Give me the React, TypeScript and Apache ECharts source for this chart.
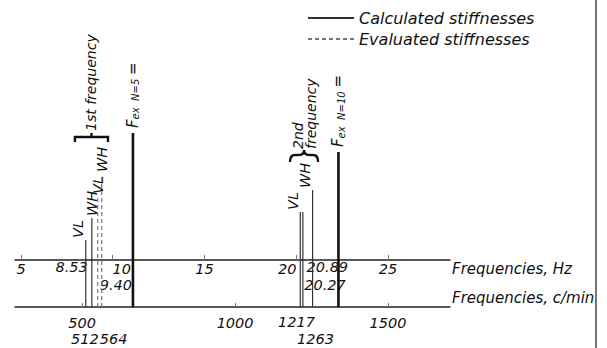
import React, { useEffect, useRef } from 'react';
import * as echarts from 'echarts';

// ---------- data ----------
const hzTicks = [5, 10, 15, 20, 25];
const cpmTicks = [500, 1000, 1500];

// vertical frequency lines (Hz) and their heights above the Hz axis (diagram units)
const lineLabels = ['VL', 'WH', 'VL', 'WH', 'VL', '', 'WH'];
const lineHz = [8.53, 8.86, 9.18, 9.4, 20.22, 20.36, 20.89];
const lineTop = [20, 42, 64, 86, 48, 48, 70];
const lineKind = ['calc', 'calc', 'eval', 'eval', 'calc', 'calc', 'calc'];

// excitation frequencies F_ex for N = 5 and N = 10
const excN = ['5', '10'];
const excHz = [11.1, 22.3];
const excTop = [127, 108];

// extra value labels written on the axes
const hzMarkValues = [8.53, 9.4, 20.89, 20.27];
const hzMarkRow = [0, 1, 0, 1];
const cpmMarkValues = [512, 564, 1217, 1263];
const cpmMarkRow = [1, 1, 0, 1];

// brackets grouping the lines
const groupLabels = ['1st frequency', '2nd\nfrequency'];
const groupFrom = [7.94, 19.66];
const groupTo = [9.74, 21.19];
const groupLevel = [123, 105];

// ---------- layout / style ----------
const FONT = 'DejaVu Sans';
const HZ_MIN = 4.673;
const HZ_MAX = 28.379;
const Y_CPM = -47; // level of the c/min axis
const Y_MAX = 260;
const HZ_ROW_Y = [-7, -25];
const CPM_ROW_Y = [-62, -79];
// side of the line on which each rotated label sits
const lineLabelSide = ['bottom', 'middle', 'middle', 'middle', 'bottom', 'bottom', 'bottom'];
const hzMarkStyle = [
  { align: 'right', dx: 2 },
  { align: 'left', dx: -2 },
  { align: 'left', dx: -6 },
  { align: 'left', dx: 3 },
];
const cpmMarkStyle = [
  { align: 'center', dx: -1 },
  { align: 'left', dx: -2 },
  { align: 'center', dx: -5 },
  { align: 'center', dx: 0 },
];

const NAME_CALC = 'Calculated stiffnesses';
const NAME_EVAL = 'Evaluated stiffnesses';

export default function App() {
  const ref = useRef<HTMLDivElement>(null);
  useEffect(() => {
    if (!ref.current) return;
    const chart = echarts.init(ref.current, null, { renderer: 'svg' });

    const clear = { color: 'rgba(0,0,0,0)', opacity: 1 };

    const lineSeries: any[] = lineHz.map((f, i) => ({
      type: 'line',
      name: lineKind[i] === 'calc' ? NAME_CALC : NAME_EVAL,
      data: [
        [f, Y_CPM],
        [f, lineTop[i]],
      ],
      symbol: 'none',
      silent: true,
      clip: false,
      itemStyle: clear,
      lineStyle:
        lineKind[i] === 'calc'
          ? { color: '#333', width: 1.2, type: 'solid' }
          : { color: '#777', width: 1.2, type: [4, 3] },
      z: 3,
    }));

    const excSeries: any[] = excHz.map((f, i) => ({
      type: 'line',
      name: 'F_ex N=' + excN[i],
      data: [
        [f, Y_CPM],
        [f, excTop[i]],
      ],
      symbol: 'none',
      silent: true,
      clip: false,
      itemStyle: clear,
      lineStyle: { color: '#111', width: 2.6 },
      z: 3,
    }));

    const italic = { fontFamily: FONT, fontStyle: 'italic', color: '#111', opacity: 1 };
    const num = { fontSize: 14.5, lineHeight: 14, ...italic };

    const rotLabels = {
      type: 'scatter',
      name: 'line labels',
      symbolSize: 1,
      itemStyle: clear,
      silent: true,
      clip: false,
      data: [
        ...lineHz
          .map((f, i) => ({
            value: [f, lineTop[i]],
            label: {
              show: !!lineLabels[i],
              formatter: lineLabels[i],
              position: 'inside',
              rotate: 90,
              align: 'left',
              verticalAlign: lineLabelSide[i],
              padding: [0, 0, 0, 2],
              fontSize: 14.5,
              ...italic,
            },
          }))
          .filter((d) => d.label.show),
        ...excHz.map((f, i) => ({
          value: [f, excTop[i]],
          label: {
            show: true,
            formatter: `{F|F}{s|ex  N=${excN[i]}} {F|=}`,
            position: 'inside',
            rotate: 90,
            align: 'left',
            verticalAlign: 'middle',
            padding: [0, 0, 0, 5],
            rich: {
              F: { fontSize: 15, ...italic },
              s: { fontSize: 10, ...italic, padding: [6, 0, 0, 0] },
            },
          },
        })),
        ...groupLabels.map((t, i) => ({
          value: [(groupFrom[i] + groupTo[i]) / 2, groupLevel[i] + 6],
          label: {
            show: true,
            formatter: t,
            position: 'inside',
            rotate: 90,
            align: 'left',
            verticalAlign: 'middle',
            fontSize: 14,
            lineHeight: 13,
            ...italic,
          },
        })),
      ],
    };

    const hzMarkLabels = {
      type: 'scatter',
      name: 'Hz values',
      symbolSize: 1,
      itemStyle: clear,
      silent: true,
      clip: false,
      data: hzMarkValues.map((v, i) => ({
        value: [v, HZ_ROW_Y[hzMarkRow[i]]],
        label: {
          show: true,
          formatter: v.toFixed(2),
          position: 'inside',
          align: hzMarkStyle[i].align,
          verticalAlign: 'middle',
          offset: [hzMarkStyle[i].dx, 0],
          ...num,
        },
      })),
    };

    const cpmMarkLabels = {
      type: 'scatter',
      name: 'c/min values',
      xAxisIndex: 1,
      symbolSize: 1,
      itemStyle: clear,
      silent: true,
      clip: false,
      data: cpmMarkValues.map((v, i) => ({
        value: [v, CPM_ROW_Y[cpmMarkRow[i]]],
        label: {
          show: true,
          formatter: String(v),
          position: 'inside',
          align: cpmMarkStyle[i].align,
          verticalAlign: 'middle',
          offset: [cpmMarkStyle[i].dx, 0],
          ...num,
        },
      })),
    };

    const brackets = {
      type: 'custom',
      name: 'brackets',
      silent: true,
      clip: false,
      encode: { x: [0, 1], y: 2 },
      data: groupFrom.map((f, i) => [f, groupTo[i], groupLevel[i], i]),
      renderItem: (params: any, api: any) => {
        const a = api.coord([api.value(0), api.value(2)]);
        const b = api.coord([api.value(1), api.value(2)]);
        const kind = api.value(3);
        const x1 = a[0];
        const x2 = b[0];
        const y = a[1];
        const xm = (x1 + x2) / 2;
        const st = { stroke: '#111', lineWidth: 2.4, fill: null };
        if (kind === 0) {
          return {
            type: 'group',
            children: [
              {
                type: 'polyline',
                shape: { points: [[x1, y + 5], [x1, y], [x2, y], [x2, y + 5]] },
                style: st,
              },
              { type: 'line', shape: { x1: xm, y1: y, x2: xm, y2: y - 4 }, style: st },
            ],
          };
        }
        const q = (sx: number, sy: number, cx: number, cy: number, ex: number, ey: number) => ({
          type: 'bezierCurve',
          shape: { x1: sx, y1: sy, cpx1: cx, cpy1: cy, x2: ex, y2: ey },
          style: st,
        });
        return {
          type: 'group',
          children: [
            q(x1, y + 7, x1, y, x1 + 5, y),
            { type: 'line', shape: { x1: x1 + 5, y1: y, x2: xm - 5, y2: y }, style: st },
            q(xm - 5, y, xm, y, xm, y - 5),
            q(xm, y - 5, xm, y, xm + 5, y),
            { type: 'line', shape: { x1: xm + 5, y1: y, x2: x2 - 5, y2: y }, style: st },
            q(x2 - 5, y, x2, y, x2, y + 7),
          ],
        };
      },
    };

    const option: any = {
      animation: false,
      backgroundColor: '#fff',
      textStyle: { fontFamily: FONT },
      legend: {
        data: [NAME_CALC, NAME_EVAL],
        orient: 'vertical',
        left: 307,
        top: 10,
        padding: 0,
        itemWidth: 46,
        itemHeight: 14,
        itemGap: 5,
        selectedMode: false,
        itemStyle: clear,
        textStyle: { fontSize: 16, lineHeight: 16, ...italic },
      },
      grid: { left: 15, right: 157, top: 0, bottom: 88, containLabel: false, outerBoundsMode: 'none' },
      xAxis: [
        {
          type: 'value',
          min: HZ_MIN,
          max: HZ_MAX,
          position: 'bottom',
          offset: 0,
          name: 'Frequencies, Hz',
          nameLocation: 'end',
          nameGap: 2,
          nameTextStyle: { fontSize: 15, verticalAlign: 'top', align: 'left', padding: [1, 0, 0, 0], ...italic },
          axisLine: { onZero: false, lineStyle: { color: '#222', width: 1.5 } },
          axisTick: { show: true, inside: true, length: 5, customValues: hzTicks, lineStyle: { color: '#777' } },
          axisLabel: {
            customValues: hzTicks,
            margin: 2,
            ...num,
            formatter: (v: number) => (v === 10 ? `{l|${v}}` : v === 20 ? `{r|${v}}` : `${v}`),
            rich: {
              l: { ...num, padding: [0, 0, 0, 18] },
              r: { ...num, padding: [0, 18, 0, 0] },
            },
          },
          splitLine: { show: false },
        },
        {
          type: 'value',
          min: HZ_MIN * 60,
          max: HZ_MAX * 60,
          position: 'bottom',
          offset: -Y_CPM,
          name: 'Frequencies, c/min',
          nameLocation: 'end',
          nameGap: 2,
          nameTextStyle: { fontSize: 15, verticalAlign: 'bottom', align: 'left', padding: [0, 0, 2, 0], ...italic },
          axisLine: { onZero: false, lineStyle: { color: '#222', width: 1.5 } },
          axisTick: { show: true, inside: true, length: 4, customValues: cpmTicks, lineStyle: { color: '#777' } },
          axisLabel: {
            customValues: cpmTicks,
            margin: 9,
            ...num,
            formatter: (v: number) => String(v),
          },
          splitLine: { show: false },
        },
      ],
      yAxis: { type: 'value', min: 0, max: Y_MAX, show: false },
      graphic: [
        {
          type: 'line',
          shape: { x1: 596, y1: 0, x2: 596, y2: 348 },
          style: { stroke: '#444', lineWidth: 1.5 },
          silent: true,
        },
      ],
      series: [...lineSeries, ...excSeries, rotLabels, hzMarkLabels, cpmMarkLabels, brackets],
    };
    chart.setOption(option);
    return () => chart.dispose();
  }, []);

  return (
    <div
      ref={ref}
      style={{ position: 'fixed', left: 0, top: 0, width: 607, height: 348, background: '#fff' }}
    />
  );
}
